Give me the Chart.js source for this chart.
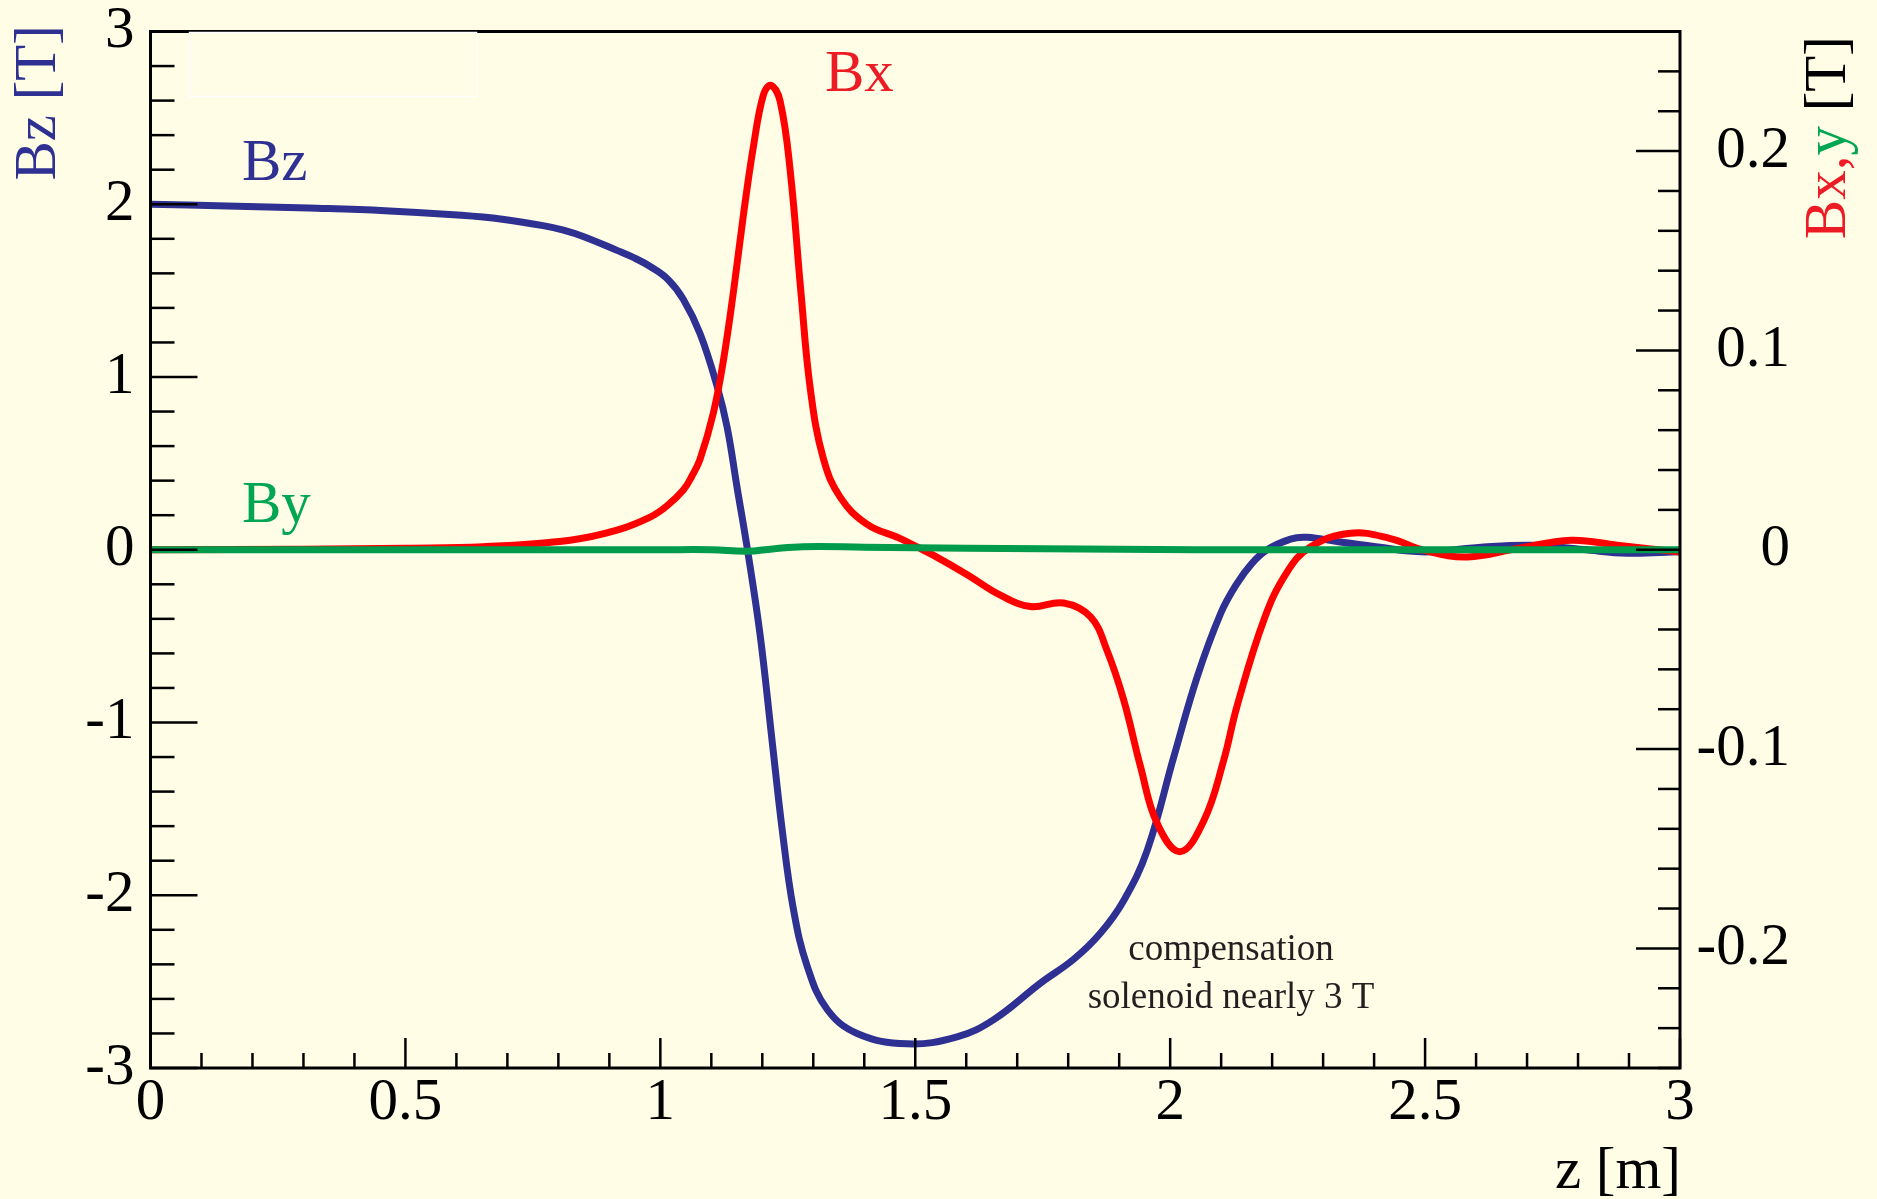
<!DOCTYPE html>
<html lang="en">
<head>
<meta charset="UTF-8" />
<title>Bz, Bx, By along z</title>
<script src="https://cdn.jsdelivr.net/npm/chart.js"></script>
<style>
  html, body { margin: 0; padding: 0; background: #fffde6; }
  canvas { display: block; }
</style>
</head>
<body>
<canvas id="field" width="1877" height="1199"></canvas>
<script>
  // z [m] and field components [T]
  const bzZ = [0, 0.15, 0.31, 0.46, 0.61, 0.69, 0.77, 0.81, 0.85, 0.915, 0.95, 0.98, 1.015, 1.045, 1.078, 1.111, 1.131, 1.15, 1.172,
    1.196, 1.219, 1.239, 1.261, 1.288, 1.327, 1.386, 1.484, 1.582, 1.654, 1.745, 1.811, 1.863, 1.909, 1.955,
    2.007, 2.053, 2.099, 2.13, 2.16, 2.19, 2.236, 2.268, 2.333, 2.412, 2.452, 2.51, 2.615, 2.713, 2.811, 2.896, 3.0];
  const bzVal = [2.0, 1.99, 1.978, 1.963, 1.936, 1.913, 1.876, 1.85, 1.812, 1.733, 1.688, 1.64, 1.565, 1.45, 1.25, 0.95, 0.71, 0.37, -0.02,
    -0.5, -1.1, -1.62, -2.08, -2.41, -2.66, -2.80, -2.86, -2.82, -2.72, -2.51, -2.37, -2.22, -2.03, -1.74,
    -1.20, -0.736, -0.369, -0.20, -0.08, 0.0, 0.062, 0.072, 0.045, 0.015, -0.003, -0.012, 0.016, 0.026, 0.001, -0.02, -0.012];

  const bxZ = [0, 0.3, 0.5, 0.652, 0.823, 0.915, 0.981, 1.013, 1.0455, 1.062, 1.078, 1.104, 1.124, 1.1437, 1.163, 1.183, 1.2025,
    1.217, 1.235, 1.255, 1.2755, 1.2945, 1.32, 1.353, 1.405, 1.471, 1.5035, 1.536, 1.602, 1.667, 1.726, 1.791,
    1.844, 1.876, 1.909, 1.942, 1.974, 2.019, 2.066, 2.105, 2.131, 2.184, 2.228, 2.275, 2.354, 2.432, 2.498,
    2.583, 2.681, 2.786, 2.877, 3.0];
  const bxVal = [0, 0.0003, 0.0008, 0.0015, 0.0048, 0.0098, 0.0165, 0.022, 0.0301, 0.037, 0.0455, 0.0686, 0.0954, 0.130, 0.168, 0.203, 0.2285,
    0.233, 0.225, 0.1895, 0.130, 0.080, 0.0455, 0.0263, 0.0129, 0.0056, 0.0014, -0.0028, -0.0125, -0.0228, -0.0285, -0.0267,
    -0.0337, -0.0504, -0.0755, -0.109, -0.137, -0.1515, -0.136, -0.1056, -0.0786, -0.0351, -0.0117, 0.0014, 0.0083, 0.0056, -0.0003,
    -0.0036, 0.0006, 0.0048, 0.0023, -0.0012];

  const byZ = [0, 0.5, 1.0, 1.1, 1.17, 1.22, 1.28, 1.4, 1.6, 1.9, 2.2, 2.6, 3.0];
  const byVal = [0, 0, 0, 0, -0.0008, 0.0004, 0.0015, 0.0013, 0.0008, 0.0002, 0, 0, 0];

  const zTicks = [0, 0.5, 1, 1.5, 2, 2.5, 3];
  const zTickLabels = ["0", "0.5", "1", "1.5", "2", "2.5", "3"];
  const bzTicks = [-3, -2, -1, 0, 1, 2, 3];
  const bzTickLabels = ["-3", "-2", "-1", "0", "1", "2", "3"];
  const bxyTicks = [-0.2, -0.1, 0, 0.1, 0.2];
  const bxyTickLabels = ["-0.2", "-0.1", "0", "0.1", "0.2"];

  const BG = "#fffde6";
  const BLUE = "#2e3192";
  const RED = "#ff0000";
  const RED_TXT = "#ed1c24";
  const GREEN = "#009b4b";
  const GREEN_TXT = "#00a651";
  const INK = "#231f20";
  const SERIF = "'Liberation Serif', 'Times New Roman', serif";

  const pts = (zs, vs) => zs.map((z, i) => ({ x: z, y: vs[i] }));
  const tickFont = { family: SERIF, size: 59 };

  // ROOT-like frame: ticks drawn inward, titles and in-plot labels
  const frame = {
    id: "frame",
    beforeDraw(chart) {
      const ctx = chart.ctx;
      ctx.save();
      ctx.fillStyle = BG;
      ctx.fillRect(0, 0, chart.width, chart.height);
      ctx.restore();
    },
    afterDraw(chart) {
      const { ctx, chartArea: a, scales } = chart;
      ctx.save();
      ctx.strokeStyle = "#000";
      ctx.lineWidth = 2.5;
      const seg = (x1, y1, x2, y2) => { ctx.beginPath(); ctx.moveTo(x1, y1); ctx.lineTo(x2, y2); ctx.stroke(); };
      for (let i = 0; i <= 30; i++) {
        const x = scales.x.getPixelForValue(i / 10);
        seg(x, a.bottom, x, a.bottom - (i % 5 === 0 ? 30 : 15));
      }
      for (let i = -15; i <= 15; i++) {
        const y = scales.y.getPixelForValue(i / 5);
        seg(a.left, y, a.left + (i % 5 === 0 ? 47 : 24), y);
      }
      for (let i = -13; i <= 13; i++) {
        const y = scales.y2.getPixelForValue(i / 50);
        seg(a.right, y, a.right - (i % 5 === 0 ? 44 : 22), y);
      }
      ctx.lineWidth = 3;
      ctx.strokeRect(a.left, a.top, a.right - a.left, a.bottom - a.top);

      // empty pave in the upper-left corner
      ctx.strokeStyle = "#ffffff";
      ctx.lineWidth = 1.5;
      ctx.strokeRect(189.5, 32.5, 287, 64);

      ctx.textBaseline = "alphabetic";
      ctx.font = "59px " + SERIF;
      ctx.textAlign = "left";
      ctx.fillStyle = BLUE;  ctx.fillText("Bz", 242, 180);
      ctx.fillStyle = GREEN_TXT; ctx.fillText("By", 242, 522);
      ctx.fillStyle = RED_TXT; ctx.fillText("Bx", 825, 91);

      ctx.fillStyle = "#000";
      ctx.textAlign = "right";
      ctx.fillText("z [m]", 1681, 1188);

      ctx.font = "37px " + SERIF;
      ctx.fillStyle = INK;
      ctx.textAlign = "center";
      ctx.fillText("compensation", 1231, 960);
      ctx.fillText("solenoid nearly 3 T", 1231, 1008);

      // left axis title
      ctx.font = "59px " + SERIF;
      ctx.save();
      ctx.translate(55, 25);
      ctx.rotate(-Math.PI / 2);
      ctx.textAlign = "right";
      ctx.fillStyle = BLUE;
      ctx.fillText("Bz [T]", 0, 0);
      ctx.restore();

      // right axis title, coloured per component
      const parts = [["Bx,", RED_TXT], ["y", GREEN_TXT], [" [T]", "#000"]];
      const total = parts.reduce((s, p) => s + ctx.measureText(p[0]).width, 0);
      ctx.save();
      ctx.translate(1845, 36 + total);
      ctx.rotate(-Math.PI / 2);
      ctx.textAlign = "left";
      let dx = 0;
      for (const [t, c] of parts) {
        ctx.fillStyle = c;
        ctx.fillText(t, dx, 0);
        dx += ctx.measureText(t).width;
      }
      ctx.restore();
      ctx.restore();
    }
  };

  const lineSet = (label, data, color, axis, order) => ({
    label, data, yAxisID: axis, order,
    borderColor: color, borderWidth: 7, pointRadius: 0, fill: false,
    tension: 0.4, borderJoinStyle: "round", borderCapStyle: "round"
  });

  new Chart(document.getElementById("field"), {
    type: "line",
    data: {
      datasets: [
        lineSet("By", pts(byZ, byVal), GREEN, "y2", 1),
        lineSet("Bx", pts(bxZ, bxVal), RED, "y2", 2),
        lineSet("Bz", pts(bzZ, bzVal), BLUE, "y", 3)
      ]
    },
    options: {
      responsive: false,
      animation: false,
      layout: { padding: { left: 0, right: 87, top: 31.5, bottom: 0 } },
      plugins: { legend: { display: false }, tooltip: { enabled: false } },
      scales: {
        x: {
          type: "linear", position: "bottom", min: 0, max: 3,
          afterBuildTicks: s => { s.ticks = zTicks.map(v => ({ value: v })); },
          afterFit: s => { s.height = 131; s.paddingLeft = 0; s.paddingRight = 0; },
          ticks: { callback: (v, i) => zTickLabels[i], font: tickFont, color: "#000", padding: 0, maxRotation: 0, autoSkip: false },
          grid: { display: false, drawTicks: false },
          border: { display: false }
        },
        y: {
          type: "linear", position: "left", min: -3, max: 3,
          afterBuildTicks: s => { s.ticks = bzTicks.map(v => ({ value: v })); },
          afterFit: s => { s.width = 150.5; s.paddingTop = 0; s.paddingBottom = 0; },
          ticks: { callback: (v, i) => bzTickLabels[i], font: tickFont, color: "#000", padding: 16, autoSkip: false },
          grid: { display: false, drawTicks: false },
          border: { display: false }
        },
        y2: {
          type: "linear", position: "right", min: -0.26, max: 0.26,
          afterBuildTicks: s => { s.ticks = bxyTicks.map(v => ({ value: v })); },
          afterFit: s => { s.width = 110; s.paddingTop = 0; s.paddingBottom = 0; },
          ticks: { callback: (v, i) => bxyTickLabels[i], font: tickFont, color: "#000", crossAlign: "far", autoSkip: false },
          grid: { display: false, drawTicks: false },
          border: { display: false }
        }
      }
    },
    plugins: [frame]
  });
</script>
</body>
</html>
